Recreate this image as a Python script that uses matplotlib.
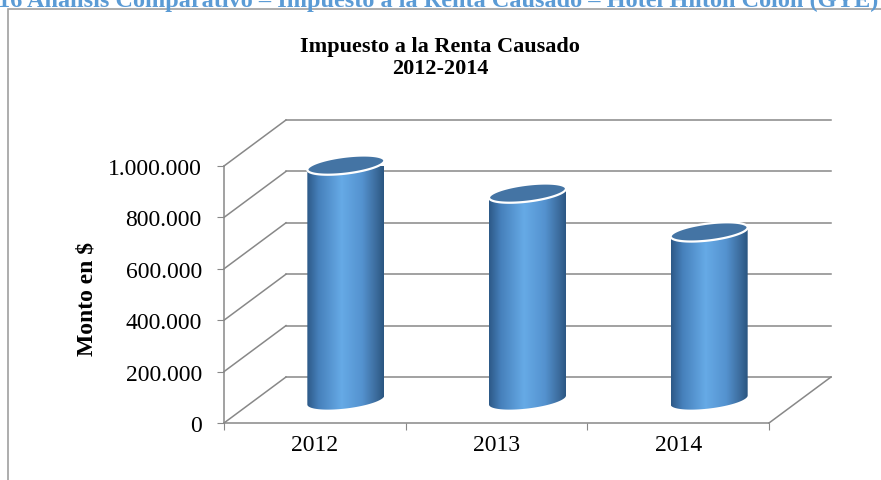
import numpy as np
import matplotlib
matplotlib.use("Agg")
import matplotlib.pyplot as plt
from matplotlib.colors import LinearSegmentedColormap
from matplotlib.patches import Polygon, Rectangle
from matplotlib.ticker import FuncFormatter

# Datos del gráfico
years = ["2012", "2013", "2014"]
impuesto = [914000, 805000, 654000]
y_ticks = [0, 200000, 400000, 600000, 800000, 1000000]

header = "16 Análisis Comparativo \u2013 Impuesto a la Renta Causado \u2013 Hotel Hilton Colón (GYE)"
titulo = "Impuesto a la Renta Causado\n2012-2014"

plt.rcParams['font.family'] = ['Liberation Serif', 'DejaVu Serif']

GRID = '#888888'
W, H = 881, 481

fig = plt.figure(figsize=(W / 100, H / 100), dpi=100)

# Encabezado del documento (cortado arriba) y marco del gráfico
fig.text(0.5 - 2 / W, 1 - 7 / H, header, ha='center', va='baseline',
         fontsize=17.5, fontweight='bold', color='#5b9bd5')
fig.patches.append(Rectangle((8 / W, -0.1), 1.2, 1.1 - 10 / H, transform=fig.transFigure,
                             fill=False, edgecolor='#a0a0a0', linewidth=1.2))

# Plano frontal del gráfico 3D
ax = fig.add_axes([224 / W, 1 - 424 / H, (769 - 224) / W, (424 - 167) / H])
ax.set_xlim(-0.5, 2.5)
ax.set_ylim(0, 1000000)

px_cat = (769 - 224) / 3
px_val = (424 - 167) / 1000000
# profundidad en unidades de datos
DX = 62 / px_cat
DY = 46 / px_val

# Paredes: líneas de cuadrícula del fondo y pared izquierda
for v in y_ticks:
    ax.plot([-0.5 + DX, 2.5 + DX], [v + DY, v + DY], color=GRID, lw=1.1, clip_on=False, zorder=1)
    ax.plot([-0.5, -0.5 + DX], [v, v + DY], color=GRID, lw=1.1, clip_on=False, zorder=1)
ax.plot([2.5, 2.5 + DX], [0, DY], color=GRID, lw=1.1, clip_on=False, zorder=1)

# Cilindros
cmap = LinearSegmentedColormap.from_list('cil', [
    (0.0, '#2d5987'), (0.15, '#4680bb'), (0.45, '#66aae6'),
    (0.72, '#5492cf'), (0.9, '#3c6c9d'), (1.0, '#2a5580')])
grad = np.linspace(0, 1, 256).reshape(1, -1)

a = 38.5 / px_cat
b = 8.5 / px_val
s = 4.5 / px_val
t = np.linspace(0, -np.pi, 60)

for i, val in enumerate(impuesto):
    cx = i + DX / 2
    base = DY / 2
    top = base + val
    bx = cx + a * np.cos(t)
    by = base + b * np.sin(t) + s * np.cos(t)
    tx = cx + a * np.cos(t[::-1])
    ty = top + b * np.sin(t[::-1]) + s * np.cos(t[::-1])
    body = np.column_stack([np.r_[bx, tx], np.r_[by, ty]])
    clip = Polygon(body, closed=True, transform=ax.transData, facecolor='none', edgecolor='none')
    ax.add_patch(clip)
    im = ax.imshow(grad, cmap=cmap, aspect='auto', zorder=2,
                   extent=[cx - a, cx + a, base - b - s, top + b + s])
    im.set_clip_box(None)
    im.set_clip_path(clip)
    tt = np.linspace(0, 2 * np.pi, 120)
    ex = cx + a * np.cos(tt)
    ey = top + b * np.sin(tt) + s * np.cos(tt)
    ax.add_patch(Polygon(np.column_stack([ex, ey]), closed=True, facecolor='#4474a4',
                         edgecolor='white', linewidth=1.6, zorder=3, clip_on=False))

ax.set_xlim(-0.5, 2.5)
ax.set_ylim(0, 1000000)

# Ejes
for side in ['top', 'right']:
    ax.spines[side].set_visible(False)
for side in ['left', 'bottom']:
    ax.spines[side].set_color(GRID)
    ax.spines[side].set_linewidth(1.1)
ax.set_yticks(y_ticks)
ax.yaxis.set_major_formatter(FuncFormatter(lambda v, p: f"{int(v):,}".replace(",", ".")))
ax.tick_params(axis='y', direction='out', length=5, color=GRID, labelsize=17, pad=11)
ax.set_xticks([-0.5, 0.5, 1.5, 2.5])
ax.set_xticklabels([])
ax.set_xticks(range(len(years)), minor=True)
ax.set_xticklabels(years, minor=True)
ax.tick_params(axis='x', which='major', direction='out', length=5, color=GRID)
ax.tick_params(axis='x', which='minor', length=0, labelsize=17, pad=8)

fig.text(87 / W, 1 - 299 / H, "Monto en $", rotation=90, ha='center', va='center',
         fontsize=17, fontweight='bold')
fig.text(440 / W, 1 - 58 / H, titulo, ha='center', va='center', fontsize=16,
         fontweight='bold', linespacing=1.12)

fig.savefig("out.png", dpi=100)
